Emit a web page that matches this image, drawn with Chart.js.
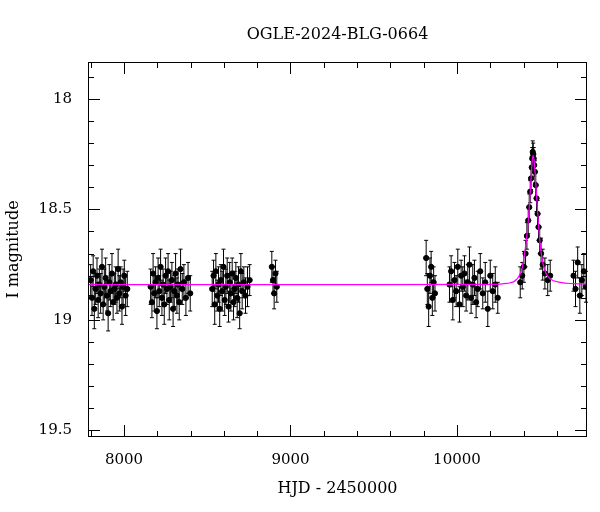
<!DOCTYPE html>
<html><head><meta charset="utf-8">
<script src="https://cdn.jsdelivr.net/npm/chart.js@4/dist/chart.umd.min.js"></script>
<style>html,body{margin:0;padding:0;background:#fff}#c{width:600px;height:512px}</style>
</head><body><canvas id="c" width="600" height="512"></canvas>
<script>
const titleText = "OGLE-2024-BLG-0664";
const xTicks = [8000, 9000, 10000];
const yTicks = [18, 18.5, 19, 19.5];
const obsHJD = [
7800,7808,7815,7822,7830,7838,7845,7852,7860,7868,7875,7882,7890,7898,7905,7912,7920,7928,7935,7942,7950,7958,7965,7972,7980,7988,7995,8002,8010,8020,
8160,8168,8175,8182,8190,8198,8205,8212,8220,8228,8235,8242,8250,8258,8265,8272,8280,8288,8295,8302,8310,8318,8325,8332,8340,8350,8360,8372,8385,8398,
8530,8538,8545,8552,8560,8568,8575,8582,8590,8598,8605,8612,8620,8628,8635,8642,8650,8658,8665,8672,8680,8688,8695,8702,8710,8720,8730,8742,8755,
8888,8895,8902,8910,8918,
9815,9822,9830,9838,9845,9852,9860,9868,
9955,9965,9975,9985,9995,10005,10015,10025,10035,10045,10055,10065,10075,10085,10095,10105,10115,10125,10140,10155,10170,10185,10200,10215,10230,10245,
10380,10392,10402,10412,10420,10428,10434,10440,10445,10449,10452,10455,10458,10461,10464,10468,10473,10478,10484,10490,10497,10505,10515,10528,10545,10560,
10700,10712,10725,10738,10750,10762,10775
];
const obsMag = [
18.82,18.90,18.78,18.95,18.86,18.80,18.91,18.84,18.88,18.76,18.93,18.85,18.81,18.89,18.97,18.83,18.87,18.79,18.92,18.86,18.84,18.90,18.77,18.88,18.83,18.94,18.85,18.80,18.89,18.86,
18.85,18.92,18.79,18.88,18.83,18.96,18.81,18.87,18.76,18.90,18.84,18.93,18.80,18.86,18.78,18.91,18.85,18.82,18.95,18.87,18.79,18.89,18.84,18.92,18.77,18.86,18.83,18.90,18.81,18.88,
18.86,18.80,18.93,18.78,18.89,18.84,18.95,18.82,18.87,18.76,18.91,18.85,18.80,18.94,18.83,18.88,18.79,18.92,18.86,18.81,18.90,18.84,18.97,18.78,18.87,18.83,18.89,18.85,18.82,
18.76,18.82,18.88,18.79,18.85,
18.72,18.86,18.94,18.80,18.76,18.90,18.83,18.88,
18.84,18.78,18.91,18.82,18.87,18.76,18.93,18.80,18.85,18.79,18.89,18.83,18.75,18.90,18.84,18.81,18.92,18.86,18.78,18.88,18.83,18.95,18.80,18.87,18.84,18.90,
18.83,18.80,18.76,18.70,18.62,18.55,18.49,18.42,18.36,18.31,18.27,18.24,18.25,18.27,18.30,18.33,18.39,18.45,18.52,18.58,18.64,18.70,18.75,18.79,18.82,18.80,
18.80,18.86,18.74,18.89,18.82,18.78,18.85
];
const obsErr = [
0.07,0.08,0.07,0.09,0.07,0.08,0.08,0.07,0.09,0.08,0.07,0.08,0.09,0.07,0.08,0.08,0.07,0.09,0.08,0.07,0.08,0.07,0.09,0.08,0.07,0.08,0.08,0.07,0.09,0.08,
0.08,0.07,0.09,0.08,0.07,0.08,0.09,0.07,0.08,0.08,0.07,0.09,0.08,0.07,0.08,0.09,0.07,0.08,0.08,0.07,0.09,0.08,0.07,0.08,0.09,0.07,0.08,0.08,0.07,0.08,
0.08,0.07,0.09,0.08,0.07,0.08,0.08,0.07,0.09,0.08,0.07,0.08,0.08,0.07,0.09,0.08,0.07,0.08,0.08,0.07,0.09,0.08,0.07,0.08,0.08,0.07,0.08,0.09,0.07,
0.07,0.06,0.07,0.06,0.07,
0.08,0.07,0.09,0.08,0.07,0.08,0.07,0.08,
0.08,0.07,0.09,0.08,0.07,0.08,0.08,0.07,0.09,0.08,0.07,0.08,0.08,0.07,0.09,0.08,0.07,0.08,0.08,0.07,0.09,0.08,0.07,0.08,0.08,0.07,
0.07,0.06,0.07,0.06,0.06,0.06,0.06,0.05,0.05,0.05,0.05,0.05,0.05,0.05,0.05,0.05,0.06,0.06,0.06,0.06,0.06,0.07,0.07,0.07,0.07,0.07,
0.07,0.08,0.07,0.08,0.07,0.08,0.07
];
const modelHJD = [7784,8500,9500,10200,10300,10360,10390,10410,10425,10435,10445,10452,10457,10462,10470,10480,10490,10500,10515,10535,10560,10620,10700,10781];
const modelMag = [18.84,18.84,18.84,18.839,18.835,18.815,18.77,18.68,18.58,18.48,18.36,18.28,18.255,18.27,18.34,18.46,18.57,18.66,18.74,18.79,18.815,18.83,18.836,18.838];

const pts = obsHJD.map((x,i)=>({x, y: obsMag[i]}));
const model = modelHJD.map((x,i)=>({x, y: modelMag[i]}));
const serif = '"DejaVu Serif", serif';

const frame = {
  id:'frame',
  beforeDatasetsDraw(ch){
    const {ctx, scales:{x,y}} = ch;
    ctx.save(); ctx.strokeStyle='#000'; ctx.lineWidth=1;
    ctx.beginPath();
    obsHJD.forEach((h,i)=>{
      const px=x.getPixelForValue(h);
      const t=y.getPixelForValue(obsMag[i]-obsErr[i]), b=y.getPixelForValue(obsMag[i]+obsErr[i]);
      ctx.moveTo(px,t);ctx.lineTo(px,b);
      ctx.moveTo(px-2,t);ctx.lineTo(px+2,t);ctx.moveTo(px-2,b);ctx.lineTo(px+2,b);
    });
    ctx.stroke(); ctx.restore();
  },
  afterDraw(ch){
    const {ctx, chartArea:a, scales:{x,y}} = ch;
    ctx.save(); ctx.strokeStyle='#000'; ctx.lineWidth=1;
    ctx.strokeRect(a.left+0.5,a.top+0.5,a.right-a.left-1,a.bottom-a.top-1);
    ctx.beginPath();
    for(let v=7800; v<=10780; v+=200){
      const p=Math.round(x.getPixelForValue(v))+0.5, L=(v%1000===0)?12:6;
      ctx.moveTo(p,a.bottom);ctx.lineTo(p,a.bottom-L);
      ctx.moveTo(p,a.top);ctx.lineTo(p,a.top+L);
    }
    for(let k=179; k<=195; k++){
      const v=k/10, p=Math.round(y.getPixelForValue(v))+0.5, L=(k%5===0)?12:6;
      ctx.moveTo(a.left,p);ctx.lineTo(a.left+L,p);
      ctx.moveTo(a.right,p);ctx.lineTo(a.right-L,p);
    }
    ctx.stroke();
    ctx.fillStyle='#000'; ctx.font='16px '+serif; ctx.textAlign='center'; ctx.textBaseline='middle';
    ctx.fillText(titleText,(a.left+a.right)/2,35);
    ctx.restore();
  }
};

const font = {family:serif, size:15};
new Chart(document.getElementById('c'), {
  type:'scatter',
  data:{datasets:[
    {data:pts, pointRadius:2.6, pointBackgroundColor:'#000', pointBorderColor:'#000', showLine:false, order:2},
    {data:model, type:'line', borderColor:'#ff00ff', borderWidth:1.2, pointRadius:0, cubicInterpolationMode:'monotone', fill:false, order:1}
  ]},
  options:{
    responsive:false, animation:false, devicePixelRatio:1,
    layout:{padding:{left:0,right:13,top:62,bottom:0}},
    plugins:{legend:{display:false}, tooltip:{enabled:false}, title:{display:false}},
    scales:{
      x:{type:'linear', min:7784, max:10781, grid:{display:false}, border:{display:false},
         afterBuildTicks(s){s.ticks=xTicks.map(v=>({value:v}));},
         ticks:{color:'#000', font, padding:6, maxRotation:0, callback:v=>String(v)},
         afterFit(s){s.height=75;},
         title:{display:true, text:'HJD - 2450000', color:'#000', font:{family:serif,size:16}, padding:{top:8,bottom:14}}},
      y:{type:'linear', reverse:true, min:17.833, max:19.53, grid:{display:false}, border:{display:false},
         afterBuildTicks(s){s.ticks=yTicks.map(v=>({value:v}));},
         ticks:{color:'#000', font, padding:8, callback:v=>String(v)},
         afterFit(s){s.width=88;},
         title:{display:true, text:'I magnitude', color:'#000', font:{family:serif,size:16}, padding:{top:4,bottom:4}}}
    }
  },
  plugins:[frame]
});
</script></body></html>
